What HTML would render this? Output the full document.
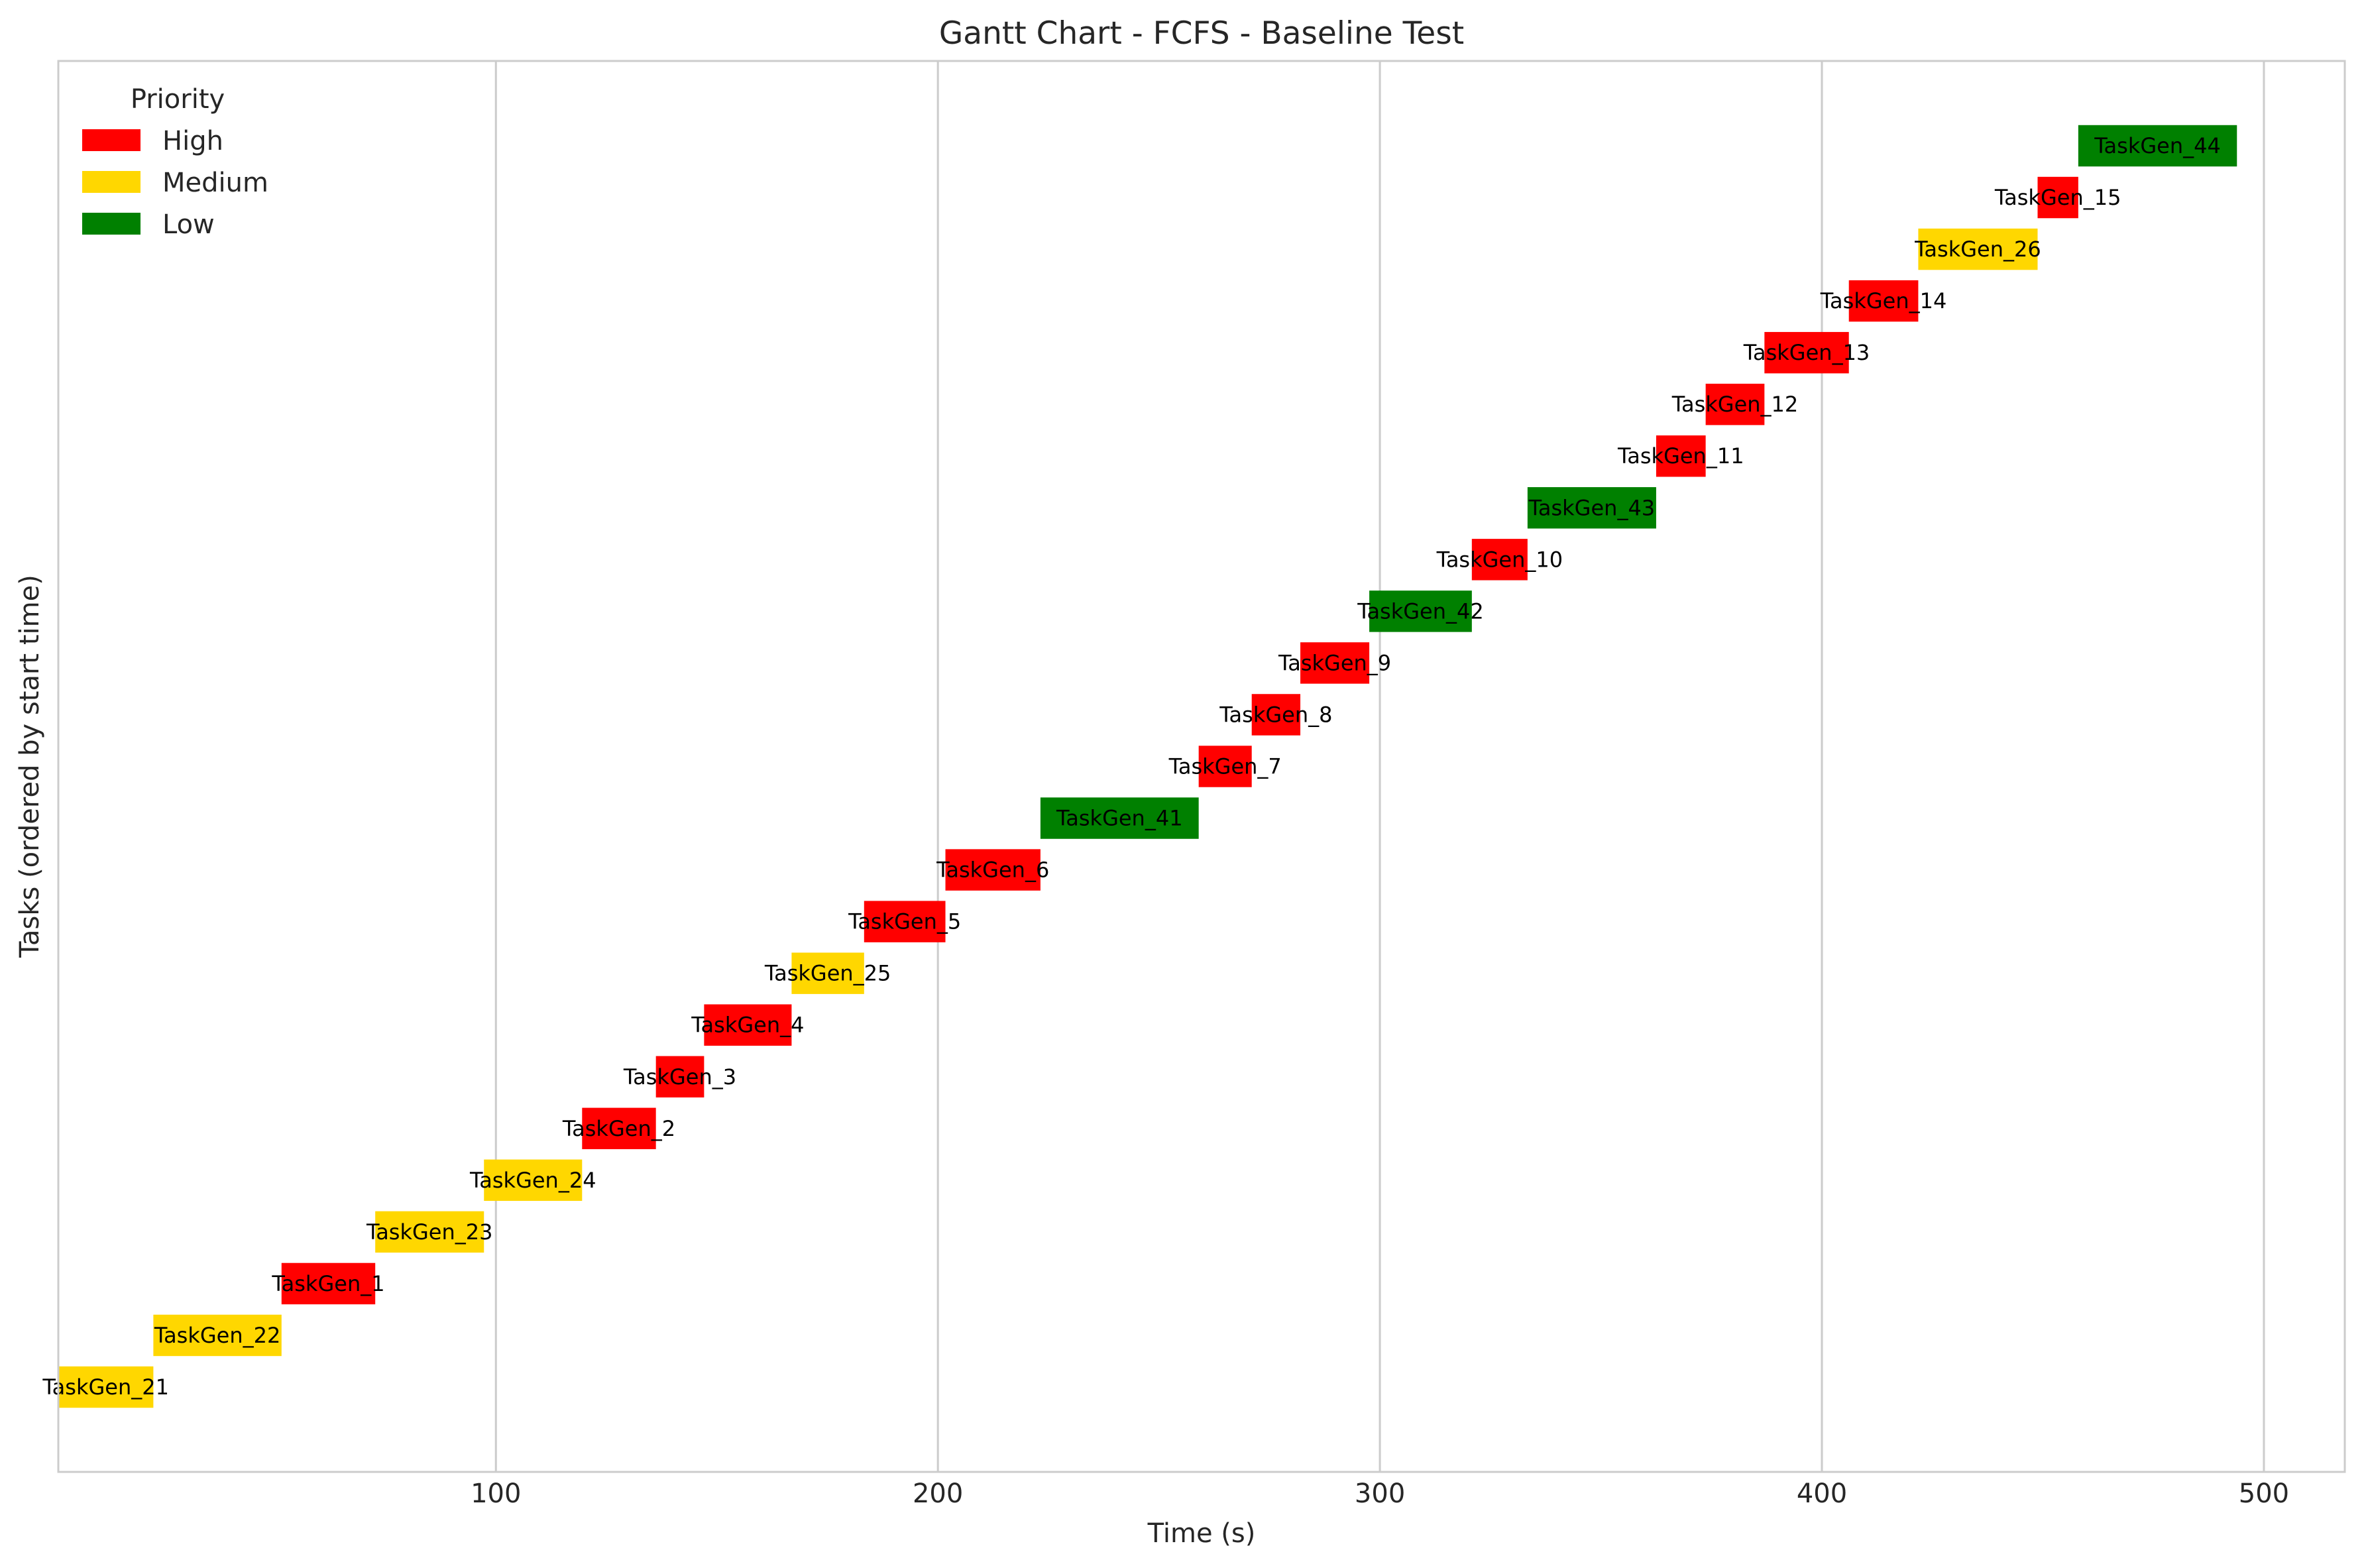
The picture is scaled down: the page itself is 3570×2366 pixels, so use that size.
<!DOCTYPE html>
<html><head><meta charset="utf-8"><style>
html,body{margin:0;padding:0;background:#fff}
svg{display:block;font-family:"DejaVu Sans","Liberation Sans",sans-serif}
</style></head><body>
<svg id="chart" width="3570" height="2366" viewBox="0 0 3570 2366" xmlns="http://www.w3.org/2000/svg">
<rect x="0" y="0" width="3570" height="2366" fill="#fff"/>
<g id="grid"></g>
<g id="bars"></g>
<rect x="88" y="92" width="3450" height="2129" fill="none" stroke="#cccccc" stroke-width="3"/>
<g id="ticks"></g>
<text x="1813" y="66" text-anchor="middle" font-size="47" fill="#262626">Gantt Chart - FCFS - Baseline Test</text>
<text x="1813" y="2327" text-anchor="middle" font-size="40" fill="#262626">Time (s)</text>
<text transform="translate(58,1156) rotate(-90)" text-anchor="middle" font-size="40" fill="#262626">Tasks (ordered by start time)</text>
<g id="legend">
<text x="268" y="163" text-anchor="middle" font-size="40" fill="#262626">Priority</text>
<rect x="124" y="195" width="88" height="33" fill="#ff0000"/>
<text x="245" y="226" font-size="40" fill="#262626">High</text>
<rect x="124" y="258" width="88" height="33" fill="#ffd700"/>
<text x="245" y="289" font-size="40" fill="#262626">Medium</text>
<rect x="124" y="321" width="88" height="33" fill="#008000"/>
<text x="245" y="352" font-size="40" fill="#262626">Low</text>
</g>
</svg>
<script>
var taskNames=["TaskGen_21","TaskGen_22","TaskGen_1","TaskGen_23","TaskGen_24","TaskGen_2","TaskGen_3","TaskGen_4","TaskGen_25","TaskGen_5","TaskGen_6","TaskGen_41","TaskGen_7","TaskGen_8","TaskGen_9","TaskGen_42","TaskGen_10","TaskGen_43","TaskGen_11","TaskGen_12","TaskGen_13","TaskGen_14","TaskGen_26","TaskGen_15","TaskGen_44"];
var startTimes=[1,22.5,51.5,72.7,97.3,119.5,136.2,147.1,166.9,183.3,201.7,223.2,259,271,282,297.6,320.8,333.4,362.5,373.7,387,406.1,421.8,448.8,458];
var endTimes=[22.5,51.5,72.7,97.3,119.5,136.2,147.1,166.9,183.3,201.7,223.2,259,271,282,297.6,320.8,333.4,362.5,373.7,387,406.1,421.8,448.8,458,493.9];
var priorities=["Medium","Medium","High","Medium","Medium","High","High","High","Medium","High","High","Low","High","High","High","Low","High","Low","High","High","High","High","Medium","High","Low"];
var xTicks=[100,200,300,400,500];
var NS="http://www.w3.org/2000/svg";
var colors={High:"#ff0000",Medium:"#ffd700",Low:"#008000"};
var X0=88,X1=3538,Y0=2221,Y1=92;
var xmin=1,xmax=518.3,ymin=-1.64,ymax=25.64;
function xs(v){return X0+(v-xmin)/(xmax-xmin)*(X1-X0);}
function ys(v){return Y0-(v-ymin)/(ymax-ymin)*(Y0-Y1);}
function mk(t,a){var e=document.createElementNS(NS,t);for(var k in a)e.setAttribute(k,a[k]);return e;}
var grid=document.getElementById('grid'),ticks=document.getElementById('ticks'),bars=document.getElementById('bars');
xTicks.forEach(function(t){
  var l=mk('line',{x1:xs(t),x2:xs(t),y1:Y1,y2:Y0,stroke:'#cccccc','stroke-width':3});
  
  
  grid.appendChild(l);
  var tx=mk('text',{x:xs(t),y:2267,'text-anchor':'middle','font-size':40,fill:'#262626'});
  tx.textContent=t;
  
  
  ticks.appendChild(tx);
});
var h=0.8;
taskNames.forEach(function(n,i){
  var x=xs(startTimes[i]),w=xs(endTimes[i])-x;
  var r=mk('rect',{x:x,y:ys(i+h/2),width:w,height:ys(i-h/2)-ys(i+h/2),fill:colors[priorities[i]]});
  
  
  bars.appendChild(r);
  var t=mk('text',{x:x+w/2,y:ys(i)+11,'text-anchor':'middle','font-size':32,fill:'#000'});
  t.textContent=n;
  
  
  bars.appendChild(t);
});
</script>
</body></html>
